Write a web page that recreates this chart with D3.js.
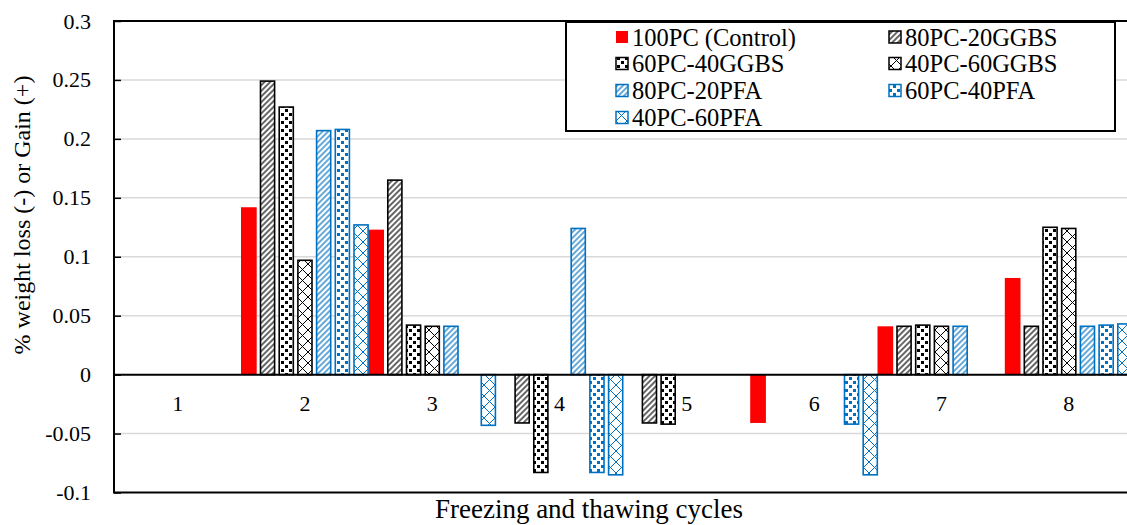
<!DOCTYPE html>
<html>
<head>
<meta charset="utf-8">
<script src="https://cdn.jsdelivr.net/npm/d3@7/dist/d3.min.js"></script>
<style>
  html, body { margin: 0; padding: 0; background: #fff; overflow: hidden; }
  svg { display: block; }
  text { font-family: "Liberation Serif", "Times New Roman", serif; fill: #000; }
</style>
</head>
<body>
<svg id="chart" width="1127" height="525"></svg>
<script>
// ---------------- data ----------------
const categories = ["1", "2", "3", "4", "5", "6", "7", "8"];
const seriesNames = ["100PC (Control)", "80PC-20GGBS", "60PC-40GGBS", "40PC-60GGBS",
                     "80PC-20PFA", "60PC-40PFA", "40PC-60PFA"];
const pc100      = [0, 0.142, 0.123, 0,      0,      -0.041, 0.041, 0.082];
const pc80ggbs20 = [0, 0.249, 0.165, -0.041, -0.041, 0,      0.041, 0.041];
const pc60ggbs40 = [0, 0.227, 0.042, -0.083, -0.042, 0,      0.042, 0.125];
const pc40ggbs60 = [0, 0.097, 0.041, 0,      0,      0,      0.041, 0.124];
const pc80pfa20  = [0, 0.207, 0.041, 0.124,  0,      0,      0.041, 0.041];
const pc60pfa40  = [0, 0.208, 0,     -0.083, 0,      -0.042, 0,     0.042];
const pc40pfa60  = [0, 0.127, -0.043,-0.085, 0,      -0.085, 0,     0.043];
const yTicks      = [-0.1, -0.05, 0, 0.05, 0.1, 0.15, 0.2, 0.25, 0.3];
const yTickLabels = ["-0.1", "-0.05", "0", "0.05", "0.1", "0.15", "0.2", "0.25", "0.3"];
const xTitle = "Freezing and thawing cycles";
const yTitle = "% weight loss (-) or Gain (+)";

const seriesValues = [pc100, pc80ggbs20, pc60ggbs40, pc40ggbs60, pc80pfa20, pc60pfa40, pc40pfa60];

// ---------------- styling ----------------
const RED = "#FF0000", BLUE = "#0070C0", BLACK = "#000000";
const seriesStyle = [
  { fill: RED, stroke: null },
  { fill: "url(#stripe-k)", stroke: BLACK },
  { fill: "url(#sq-k)", stroke: BLACK },
  { fill: "url(#x-k)", stroke: BLACK },
  { fill: "url(#stripe-b)", stroke: BLUE },
  { fill: "url(#sq-b)", stroke: BLUE },
  { fill: "url(#x-b)", stroke: BLUE }
];

const svg = d3.select("#chart");
const W = 1127, H = 525;
svg.append("rect").attr("width", W).attr("height", H).attr("fill", "#fff");

// patterns
const defs = svg.append("defs");
function stripe(id, col) {
  const p = defs.append("pattern").attr("id", id).attr("patternUnits", "userSpaceOnUse")
    .attr("width", 4).attr("height", 4).attr("patternTransform", "rotate(45)");
  p.append("rect").attr("width", 4).attr("height", 4).attr("fill", "#fff");
  p.append("line").attr("x1", 1).attr("y1", 0).attr("x2", 1).attr("y2", 4)
    .attr("stroke", col).attr("stroke-width", 1.2);
}
function squares(id, col) {
  const p = defs.append("pattern").attr("id", id).attr("patternUnits", "userSpaceOnUse")
    .attr("width", 8).attr("height", 8);
  p.append("rect").attr("width", 8).attr("height", 8).attr("fill", "#fff");
  p.append("rect").attr("x", 1).attr("y", 1).attr("width", 3).attr("height", 3).attr("fill", col);
  p.append("rect").attr("x", 5).attr("y", 5).attr("width", 3).attr("height", 3).attr("fill", col);
}
function cross(id, col) {
  const p = defs.append("pattern").attr("id", id).attr("patternUnits", "userSpaceOnUse")
    .attr("width", 11).attr("height", 11);
  p.append("rect").attr("width", 11).attr("height", 11).attr("fill", "#fff");
  p.append("path").attr("d", "M0,0L11,11M11,0L0,11").attr("stroke", col).attr("stroke-width", 1);
}
stripe("stripe-k", BLACK); stripe("stripe-b", BLUE);
squares("sq-k", BLACK); squares("sq-b", BLUE);
cross("x-k", BLACK); cross("x-b", BLUE);

// ---------------- scales ----------------
const plotLeft = 114, plotTop = 21, plotBottom = 492.5, catStep = 127.3;
const x = d3.scaleBand().domain(categories)
  .range([plotLeft, plotLeft + catStep * categories.length]).padding(0);
const groupWidth = 130.9;
const xs = d3.scaleBand().domain(seriesNames).range([-groupWidth / 2, groupWidth / 2])
  .paddingInner(0.16).paddingOuter(0.08);
const y = d3.scaleLinear().domain([-0.1, 0.3]).range([plotBottom, plotTop]);

// gridlines
svg.append("g").selectAll("line").data(yTicks.filter(d => d !== 0 && d !== -0.1 && d !== 0.3)).join("line")
  .attr("x1", plotLeft).attr("x2", W).attr("y1", d => y(d)).attr("y2", d => y(d))
  .attr("stroke", "#d9d9d9").attr("stroke-width", 1.5);

// bars
const barData = [];
seriesNames.forEach((s, si) => {
  categories.forEach((c, ci) => barData.push({ s, si, c, v: seriesValues[si][ci] }));
});
const bw = xs.bandwidth();
svg.append("g").selectAll("rect").data(barData).join("rect")
  .each(function (d) {
    const st = seriesStyle[d.si];
    const cx = x(d.c) + x.bandwidth() / 2 + xs(d.s);
    const y0 = y(0), y1 = y(d.v);
    const top = Math.min(y0, y1), h = Math.abs(y1 - y0);
    const sel = d3.select(this);
    if (st.stroke) {
      const sw = 1.6;
      sel.attr("x", cx + sw / 2).attr("width", bw - sw)
        .attr("y", top).attr("height", h)
        .attr("fill", st.fill)
        .attr("stroke", d.v === 0 ? "none" : st.stroke).attr("stroke-width", sw);
    } else {
      sel.attr("x", cx).attr("width", bw).attr("y", top).attr("height", h).attr("fill", st.fill);
    }
  });

// y axis (ticks + labels)
const yAxis = d3.axisLeft(y).tickValues(yTicks)
  .tickFormat((d, i) => yTickLabels[i]).tickSizeInner(-7).tickSizeOuter(0).tickPadding(23);
const gy = svg.append("g").attr("transform", `translate(${plotLeft},0)`).call(yAxis);
gy.select(".domain").remove();
gy.selectAll(".tick line").attr("stroke", "#000").attr("stroke-width", 1.5);
gy.selectAll("text").style("font-size", "22px").attr("font-family", null);

// plot border (left, top, bottom)
svg.append("path")
  .attr("d", `M${W + 5},${plotTop}H${plotLeft}V${plotBottom}H${W + 5}`)
  .attr("fill", "none").attr("stroke", "#000").attr("stroke-width", 2);

// category axis on zero line
const xAxis = d3.axisBottom(x).tickSize(0).tickPadding(21);
const gx = svg.append("g").attr("transform", `translate(0,${y(0)})`).call(xAxis);
gx.select(".domain").remove();
gx.selectAll("text").style("font-size", "22px").attr("font-family", null);
svg.append("line").attr("x1", plotLeft).attr("x2", W).attr("y1", y(0)).attr("y2", y(0))
  .attr("stroke", "#000").attr("stroke-width", 2);

// axis titles
svg.append("text").attr("x", 589).attr("y", 518).attr("text-anchor", "middle")
  .style("font-size", "27px").text(xTitle);
svg.append("text").attr("transform", "translate(30,215) rotate(-90)").attr("text-anchor", "middle")
  .style("font-size", "24px").text(yTitle);

// legend
const lg = svg.append("g");
lg.append("rect").attr("x", 566).attr("y", 22).attr("width", 549).attr("height", 109)
  .attr("fill", "#fff").attr("stroke", "#000").attr("stroke-width", 2);
const colX = [616, 889], rowY = [37, 63.5, 90.5, 117.5];
seriesNames.forEach((s, i) => {
  const cx = colX[i % 2], cy = rowY[Math.floor(i / 2)];
  const st = seriesStyle[i];
  lg.append("rect").attr("x", cx).attr("y", cy - 6).attr("width", 12).attr("height", 12)
    .attr("fill", st.fill).attr("stroke", st.stroke || "none").attr("stroke-width", st.stroke ? 1.5 : 0);
  lg.append("text").attr("x", cx + 16).attr("y", cy).attr("dy", "0.35em")
    .style("font-size", "24.5px").text(s);
});
</script>
</body>
</html>
